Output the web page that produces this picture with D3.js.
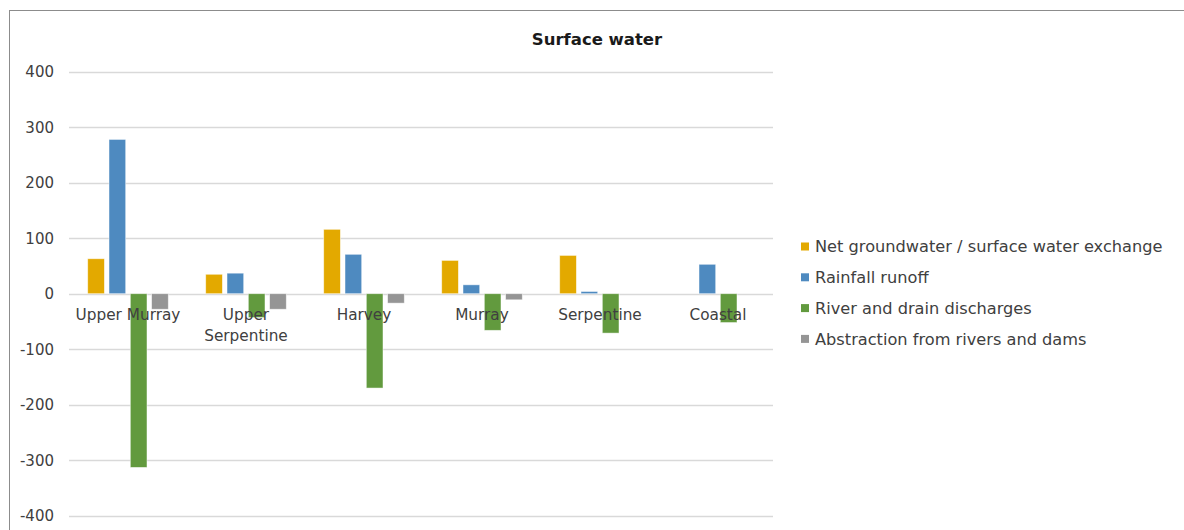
<!DOCTYPE html>
<html>
<head>
<meta charset="utf-8">
<script src="https://cdn.jsdelivr.net/npm/d3@7"></script>
<style>
  html, body { margin: 0; padding: 0; background: #fff; }
  svg { display: block; }
  text { font-family: "DejaVu Sans", sans-serif; }
</style>
</head>
<body>
<svg id="chart" width="1184" height="530"></svg>
<script>
// Surface water balance by zone (GL/yr)
const categories = ["Upper Murray", "Upper Serpentine", "Harvey", "Murray", "Serpentine", "Coastal"];
const seriesNames = [
  "Net groundwater / surface water exchange",
  "Rainfall runoff",
  "River and drain discharges",
  "Abstraction from rivers and dams"
];
const netExchange    = [63, 35, 116, 60, 69, 0];
const rainfallRunoff = [278, 37, 71, 16, 4, 53];
const riverDischarge = [-313, -43, -170, -66, -71, -52];
const abstraction    = [-28, -28, -17, -11, 0, 0];
const yTicks = [-400, -300, -200, -100, 0, 100, 200, 300, 400];
const seriesColors = ["#E3A900", "#4E8AC0", "#629A3E", "#959595"];

const seriesValues = [netExchange, rainfallRunoff, riverDischarge, abstraction];

const svg = d3.select("#chart");

// outer chart frame
svg.append("rect")
  .attr("x", 9.5).attr("y", 10.5)
  .attr("width", 1200).attr("height", 600)
  .attr("fill", "#fff").attr("stroke", "#8c8c8c").attr("stroke-width", 1);

const plot = { left: 69, right: 773, top: 71.7, bottom: 515.7 };

const y = d3.scaleLinear().domain([-400, 400]).range([plot.bottom, plot.top]);
const x0 = d3.scaleBand().domain(categories).range([plot.left, plot.left + 118 * categories.length]);
const x1 = d3.scaleBand().domain(d3.range(seriesNames.length))
  .range([18.7, 99.3]).paddingInner(0.216).paddingOuter(0);

// gridlines
svg.append("g").selectAll("line").data(yTicks).join("line")
  .attr("x1", plot.left).attr("x2", plot.right)
  .attr("y1", d => Math.round(y(d)) + 0.5).attr("y2", d => Math.round(y(d)) + 0.5)
  .attr("stroke", "#d9d9d9").attr("stroke-width", 1.5);

// y axis labels
svg.append("g").selectAll("text").data(yTicks).join("text")
  .attr("x", 54).attr("y", d => y(d))
  .attr("dy", "0.36em")
  .attr("text-anchor", "end")
  .attr("font-size", 15)
  .attr("fill", "#404040")
  .text(d => d);

// bars
const groups = svg.append("g").selectAll("g").data(categories).join("g")
  .attr("transform", c => `translate(${x0(c)},0)`);

groups.selectAll("rect")
  .data((c, ci) => seriesValues.map((vals, si) => ({ si, v: vals[ci] })).filter(d => d.v !== 0))
  .join("rect")
  .attr("x", d => x1(d.si))
  .attr("width", x1.bandwidth())
  .attr("y", d => y(Math.max(0, d.v)))
  .attr("height", d => Math.abs(y(d.v) - y(0)))
  .attr("fill", d => seriesColors[d.si])
  .attr("stroke", "#ffffff").attr("stroke-opacity", 0.6).attr("stroke-width", 0.8);

// category labels (drawn over the bars); long names wrap onto two lines
const catLabels = svg.append("g").selectAll("text").data(categories).join("text")
  .attr("x", c => x0(c) + x0.bandwidth() / 2)
  .attr("y", 320)
  .attr("text-anchor", "middle")
  .attr("font-size", 15.3)
  .attr("fill", "#404040");
catLabels.each(function(c) {
  const t = d3.select(this);
  if (c.length > 14) {
    c.split(" ").forEach((w, i) =>
      t.append("tspan").attr("x", x0(c) + x0.bandwidth() / 2).attr("dy", i === 0 ? 0 : 21).text(w));
  } else {
    t.text(c);
  }
});

// title
svg.append("text")
  .attr("x", 597).attr("y", 45)
  .attr("text-anchor", "middle")
  .attr("font-size", 16.5)
  .attr("font-weight", "bold")
  .attr("fill", "#1a1a1a")
  .text("Surface water");

// legend
const legend = svg.append("g").selectAll("g").data(seriesNames).join("g")
  .attr("transform", (d, i) => `translate(801, ${246.5 + i * 30.8})`);
legend.append("rect")
  .attr("x", 0).attr("y", -4).attr("width", 8).attr("height", 8)
  .attr("fill", (d, i) => seriesColors[i]);
legend.append("text")
  .attr("x", 14).attr("y", 0).attr("dy", "0.36em")
  .attr("font-size", 16.2)
  .attr("fill", "#404040")
  .text(d => d);
</script>
</body>
</html>
